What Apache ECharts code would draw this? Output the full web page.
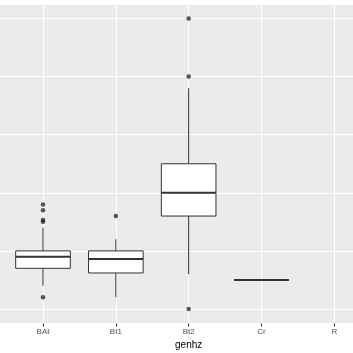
<!DOCTYPE html>
<html>
<head>
<meta charset="utf-8">
<script src="https://cdn.jsdelivr.net/npm/echarts@6/dist/echarts.min.js"></script>
<style>html,body{margin:0;padding:0;background:#fff}#c{width:353px;height:353px}</style>
</head>
<body>
<div id="c"></div>
<script>
const categories = ['BAt', 'Bt1', 'Bt2', 'Cr', 'R'];
const whiskerLow = [14, 12, 16, 15, null];
const q1 = [17, 16.2, 26, 15, null];
const median = [19, 18.6, 30, 15, null];
const q3 = [20, 20, 35, 15, null];
const whiskerHigh = [24, 22, 48, 15, null];
const outliers = [[12, 25, 25.3, 27, 28], [26], [10, 50, 60], [], []];
const xTitle = 'genhz';

const positions = categories.map((c, i) => i + 1);
const boxData = [];
categories.forEach((c, i) => {
  if (median[i] !== null) boxData.push([i + 1, whiskerLow[i], q1[i], median[i], q3[i], whiskerHigh[i]]);
});
const outlierData = [];
outliers.forEach((arr, i) => arr.forEach(v => outlierData.push([i + 1, v])));

const chart = echarts.init(document.getElementById('c'), null, {renderer: 'canvas'});
chart.setOption({
  backgroundColor: '#ffffff',
  animation: false,
  grid: {
    left: -0.7, right: -25, top: 4, bottom: 29.5,
    outerBoundsMode: 'none', containLabel: false,
    show: true, backgroundColor: '#EBEBEB', borderWidth: 0
  },
  xAxis: {
    type: 'value', min: 0.4, max: 5.6,
    name: xTitle, nameLocation: 'middle', nameGap: 12,
    nameTextStyle: {color: '#000', fontSize: 10, fontFamily: 'Liberation Sans'},
    axisLine: {show: false},
    axisTick: {show: true, length: 3, customValues: positions, lineStyle: {color: '#333', width: 1}},
    axisLabel: {
      margin: 4, fontSize: 8, color: '#4D4D4D', fontFamily: 'Liberation Sans',
      customValues: positions,
      formatter: v => (Number.isInteger(v) && v >= 1 && v <= categories.length) ? categories[v - 1] : ''
    },
    splitLine: {show: true, lineStyle: {color: '#ffffff', width: 1}}
  },
  yAxis: {
    type: 'value', min: 7.5, max: 62.5,
    axisLine: {show: false}, axisTick: {show: false}, axisLabel: {show: false},
    splitLine: {show: true, lineStyle: {color: '#ffffff', width: 1}}
  },
  series: [
    {
      type: 'custom',
      data: boxData,
      renderItem: function (params, api) {
        const x = api.value(0);
        const half = api.size([0.75, 0])[0] / 2;
        const pLow = api.coord([x, api.value(1)]);
        const pQ1 = api.coord([x, api.value(2)]);
        const pMed = api.coord([x, api.value(3)]);
        const pQ3 = api.coord([x, api.value(4)]);
        const pHigh = api.coord([x, api.value(5)]);
        const stroke = {stroke: '#333333', lineWidth: 1, fill: null};
        return {
          type: 'group',
          children: [
            {type: 'line', shape: {x1: pQ3[0], y1: pQ3[1], x2: pHigh[0], y2: pHigh[1]}, style: stroke},
            {type: 'line', shape: {x1: pQ1[0], y1: pQ1[1], x2: pLow[0], y2: pLow[1]}, style: stroke},
            {type: 'rect', shape: {x: pQ3[0] - half, y: pQ3[1], width: half * 2, height: pQ1[1] - pQ3[1]},
              style: {fill: '#ffffff', stroke: '#333333', lineWidth: 1}},
            {type: 'line', shape: {x1: pMed[0] - half, y1: pMed[1], x2: pMed[0] + half, y2: pMed[1]},
              style: {stroke: '#333333', lineWidth: 2}}
          ]
        };
      },
      z: 2
    },
    {
      type: 'scatter',
      data: outlierData,
      symbol: 'circle',
      symbolSize: 4.5,
      itemStyle: {color: '#2a2a2a'},
      z: 3
    }
  ]
});
</script>
</body>
</html>
